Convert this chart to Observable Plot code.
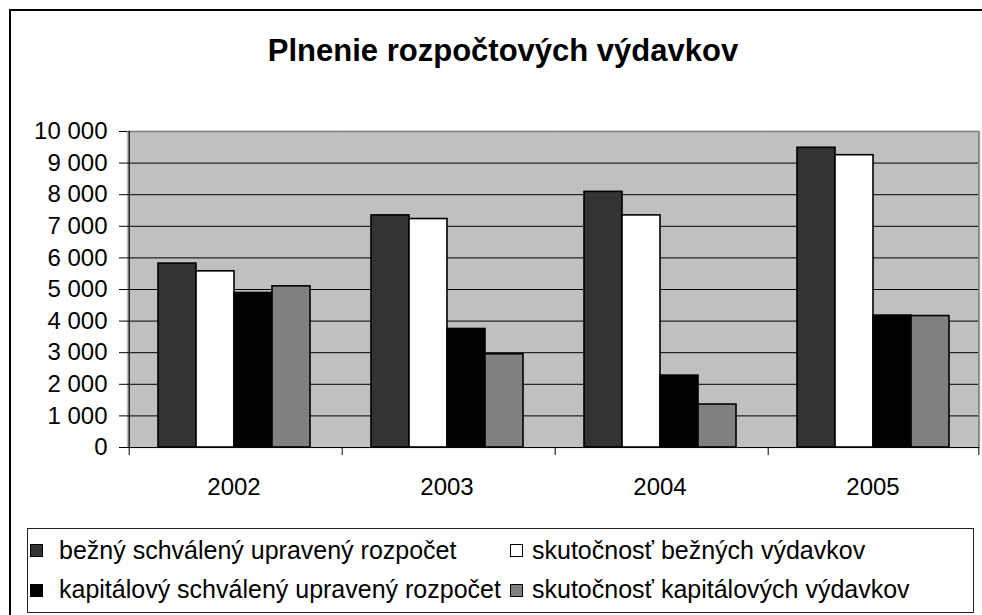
<!DOCTYPE html>
<html>
<head>
<meta charset="utf-8">
<script src="https://cdn.jsdelivr.net/npm/d3@7"></script>
<script src="https://cdn.jsdelivr.net/npm/@observablehq/plot@0.6"></script>
<style>
  html, body { margin: 0; padding: 0; background: #fff; overflow: hidden; }
  #wrap { position: relative; width: 982px; height: 615px; overflow: hidden; font-family: "Liberation Sans", Arial, sans-serif; color: #000; }
  #outer { position: absolute; left: 9px; top: 9px; width: 973px; height: 606px; border-left: 2px solid #000; border-top: 2px solid #000; box-sizing: border-box; }
  #title { position: absolute; left: 0; top: 35px; width: 1006px; text-align: center; font-weight: bold; font-size: 31px; line-height: 31px; }
  #chart { position: absolute; left: 0; top: 0; }
  #legend { position: absolute; left: 27px; top: 528px; width: 947px; height: 85px; border: 1px solid #222; box-sizing: border-box; }
  .sw { position: absolute; width: 13px; height: 13px; border: 1px solid #000; box-sizing: border-box; }
  .lt { position: absolute; font-size: 25px; line-height: 25px; white-space: nowrap; }
</style>
</head>
<body>
<div id="wrap">
  <div id="outer"></div>
  <div id="title">Plnenie rozpočtových výdavkov</div>
  <div id="chart"></div>
  <div id="legend"></div>
</div>
<script>
const years = ["2002", "2003", "2004", "2005"];
const series = [
  "bežný schválený upravený rozpočet",
  "skutočnosť bežných výdavkov",
  "kapitálový schválený upravený rozpočet",
  "skutočnosť kapitálových výdavkov"
];
const bezneSchvalene = [5820, 7345, 8090, 9485];
const bezneSkutocnost = [5575, 7230, 7345, 9250];
const kapitaloveSchvalene = [4890, 3750, 2275, 4175];
const kapitaloveSkutocnost = [5100, 2950, 1360, 4160];
const colors = ["#333333", "#ffffff", "#000000", "#808080"];
const yTicks = [0, 1000, 2000, 3000, 4000, 5000, 6000, 7000, 8000, 9000, 10000];

const valuesBySeries = [bezneSchvalene, bezneSkutocnost, kapitaloveSchvalene, kapitaloveSkutocnost];
const data = [];
years.forEach((y, i) => series.forEach((s, j) => data.push({year: y, series: s, value: valuesBySeries[j][i]})));

const W = 982, H = 500, mL = 127, mR = 3, mT = 131, mB = 53;
const pOuter = 0.745;
const facetW = (W - mL - mR) / years.length;
const step = facetW / (series.length + 2 * pOuter);
const edge = step * (pOuter + 0.5);
const pxPerUnit = (H - mT - mB) / 10000;
const tickLen = 8 / pxPerUnit;

const firstInFacet = years.map(y => ({year: y, s: series[0]}));
const lastFacet = [{year: years[years.length - 1], s: series[series.length - 1]}];
const firstFacet = [{year: years[0], s: series[0]}];
const fmt = d => d3.format(",")(d).replace(/,/g, " ");

const chart = Plot.plot({
  width: W, height: H,
  marginLeft: mL, marginRight: mR, marginTop: mT, marginBottom: mB,
  style: {fontFamily: '"Liberation Sans", Arial, sans-serif', fontSize: "24px", color: "#000", background: "transparent", overflow: "visible"},
  fx: {domain: years, padding: 0, label: null},
  x: {domain: series, paddingInner: 0, paddingOuter: pOuter, axis: null},
  y: {domain: [0, 10000], label: null},
  color: {domain: series, range: colors},
  marks: [
    Plot.frame({fill: "#c0c0c0", stroke: "#c0c0c0", strokeWidth: 1.5}),
    Plot.ruleY(yTicks.filter(v => v > 0 && v < 10000), {stroke: "#000", strokeWidth: 1}),
    Plot.ruleY([10000], {stroke: "#808080", strokeWidth: 1.5}),
    Plot.ruleX(lastFacet, {fx: "year", x: "s", dx: edge, y1: 0, y2: 10000, stroke: "#808080", strokeWidth: 1.5}),
    Plot.barY(data, {fx: "year", x: "series", y: "value", fill: "series", stroke: "#000", strokeWidth: 1.6}),
    Plot.ruleY([0], {stroke: "#000", strokeWidth: 1.2}),
    Plot.ruleX(firstFacet, {fx: "year", x: "s", dx: -edge, y1: 0, y2: 10000, stroke: "#000", strokeWidth: 1.2}),
    Plot.ruleX(firstInFacet, {fx: "year", x: "s", dx: -edge, y1: 0, y2: -tickLen, stroke: "#000", strokeWidth: 1}),
    Plot.ruleX(lastFacet, {fx: "year", x: "s", dx: edge, y1: 0, y2: -tickLen, stroke: "#000", strokeWidth: 1}),
    Plot.axisY(yTicks, {tickSize: 8, tickPadding: 12, tickFormat: fmt, fontSize: 24, label: null}),
    Plot.axisFx({anchor: "bottom", tickSize: 0, tickPadding: 30, fontSize: 24, label: null})
  ]
});
document.getElementById("chart").appendChild(chart);

const legend = document.getElementById("legend");
const pos = [
  {sx: 29, tx: 58, row: 0}, {sx: 509, tx: 531, row: 0},
  {sx: 29, tx: 58, row: 1}, {sx: 509, tx: 531, row: 1}
];
const swTop = [543, 583], txTop = [537, 576];
series.forEach((s, i) => {
  const p = pos[i];
  const sw = document.createElement("div");
  sw.className = "sw";
  sw.style.left = (p.sx - 27) + "px";
  sw.style.top = (swTop[p.row] - 528) + "px";
  sw.style.background = colors[i];
  legend.appendChild(sw);
  const t = document.createElement("div");
  t.className = "lt";
  t.style.left = (p.tx - 27) + "px";
  t.style.top = (txTop[p.row] - 528) + "px";
  t.textContent = s;
  legend.appendChild(t);
});
</script>
</body>
</html>
